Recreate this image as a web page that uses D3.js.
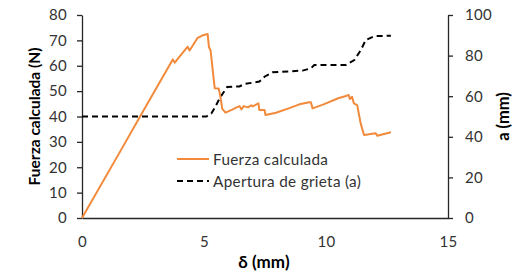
<!DOCTYPE html>
<html>
<head>
<meta charset="utf-8">
<script src="https://cdn.jsdelivr.net/npm/d3@7"></script>
<style>
  html, body { margin: 0; padding: 0; background: #fff; }
  svg { display: block; font-family: Lato, "Open Sans", sans-serif; }
</style>
</head>
<body>
<svg id="chart" width="516" height="275"></svg>
<script>
// ---------------------------------------------------------------------------
// Data: displacement δ (mm) vs force (N) and crack (mm)
// ---------------------------------------------------------------------------
const forceDelta = [0, 1.79, 2.38, 3.72, 3.80, 4.33, 4.41, 4.74, 4.95, 5.15, 5.20, 5.27, 5.44, 5.60, 5.65,
  5.75, 5.88, 6.18, 6.33, 6.46, 6.53, 6.63, 6.80, 6.94, 7.00, 7.23, 7.27, 7.48, 7.52, 7.95, 8.50, 8.91,
  9.32, 9.38, 9.45, 9.90, 10.50, 10.82, 10.93, 10.98, 11.07, 11.14, 11.28, 11.42, 11.56, 12.04, 12.10, 12.66];
const forceN = [0, 30, 40, 62.5, 61.2, 67.5, 66, 71, 72, 72.5, 67.5, 66, 51.1, 51, 49,
  43, 41.5, 42.8, 43.6, 44.1, 42.8, 44.1, 43.6, 44.4, 44.0, 45.2, 42.6, 42.6, 40.6, 41.5, 43.3, 44.8,
  45.6, 45.6, 43.2, 44.8, 47.2, 48.1, 48.5, 46.9, 47.8, 45.2, 44.5, 37.3, 32.7, 33.4, 32.4, 33.8];

const crackDelta = [0, 5.10, 5.30, 5.45, 5.60, 5.75, 5.95, 6.45, 6.66, 7.27, 7.48, 7.80, 9.04, 9.38, 9.52,
  10.82, 11.16, 11.43, 11.63, 12.00, 12.66];
const crackA = [50, 50, 51.5, 54.5, 58, 61, 64.5, 64.8, 66, 67.2, 69.6, 71.8, 72.6, 73.7, 75.4,
  75.4, 77.8, 82.8, 87.7, 89.6, 89.8];

const xTicks = [0, 5, 10, 15];
const leftTicks = [0, 10, 20, 30, 40, 50, 60, 70, 80];
const rightTicks = [0, 20, 40, 60, 80, 100];

const seriesNames = ["Fuerza calculada", "Apertura de grieta (a)"];
const xTitle = "δ (mm)";
const leftTitle = "Fuerza calculada (N)";
const rightTitle = "a (mm)";

// ---------------------------------------------------------------------------
// Layout
// ---------------------------------------------------------------------------
const plot = { left: 82, right: 448, top: 15, bottom: 218 };
const ORANGE = "#F28A3C";
const INK = "#262626";

const svg = d3.select("#chart");

const x = d3.scaleLinear().domain([0, 15]).range([plot.left, plot.right]);
const yL = d3.scaleLinear().domain([0, 80]).range([plot.bottom, plot.top]);
const yR = d3.scaleLinear().domain([0, 100]).range([plot.bottom, plot.top]);

// Left axis — outward ticks, labels right-aligned
const axL = svg.append("g")
  .attr("transform", `translate(${plot.left},0)`)
  .call(d3.axisLeft(yL).tickValues(leftTicks).tickSize(5).tickPadding(10).tickSizeOuter(0));

// Right axis
const axR = svg.append("g")
  .attr("transform", `translate(${plot.right},0)`)
  .call(d3.axisRight(yR).tickValues(rightTicks).tickSize(5).tickPadding(12).tickSizeOuter(0));

// Bottom axis — no tick marks
const axB = svg.append("g")
  .attr("transform", `translate(0,${plot.bottom})`)
  .call(d3.axisBottom(x).tickValues(xTicks).tickSize(0).tickPadding(18));

[axL, axR, axB].forEach(ax => {
  ax.select(".domain").attr("stroke", INK).attr("stroke-width", 1.3);
  ax.selectAll(".tick line").attr("stroke", INK).attr("stroke-width", 1.3);
  ax.selectAll(".tick text")
    .attr("fill", "#333")
    .attr("font-size", 15)
    .attr("letter-spacing", 0.3)
    .attr("font-family", "Lato, 'Open Sans', sans-serif");
});

// Series lines
const forcePts = forceDelta.map((d, i) => [d, forceN[i]]);
const crackPts = crackDelta.map((d, i) => [d, crackA[i]]);

svg.append("path")
  .datum(crackPts)
  .attr("fill", "none")
  .attr("stroke", "#000")
  .attr("stroke-width", 2)
  .attr("stroke-dasharray", "6,4")
  .attr("d", d3.line().x(d => x(d[0])).y(d => yR(d[1])));

svg.append("path")
  .datum(forcePts)
  .attr("fill", "none")
  .attr("stroke", ORANGE)
  .attr("stroke-width", 2)
  .attr("stroke-linejoin", "round")
  .attr("d", d3.line().x(d => x(d[0])).y(d => yL(d[1])));

// Axis titles
svg.append("text")
  .attr("transform", `translate(${(plot.left + plot.right) / 2 - 1},268)`)
  .attr("text-anchor", "middle")
  .attr("font-size", 17).attr("font-weight", 700).attr("fill", "#000")
  .text(xTitle);

svg.append("text")
  .attr("transform", `translate(40,${(plot.top + plot.bottom) / 2}) rotate(-90)`)
  .attr("text-anchor", "middle")
  .attr("font-size", 15.5).attr("font-weight", 700).attr("fill", "#000")
  .text(leftTitle);

svg.append("text")
  .attr("transform", `translate(509,${(plot.top + plot.bottom) / 2}) rotate(-90)`)
  .attr("text-anchor", "middle")
  .attr("font-size", 16.5).attr("font-weight", 700).attr("fill", "#000")
  .text(rightTitle);

// Legend
const legend = svg.append("g").attr("transform", "translate(177,159)");
seriesNames.forEach((name, i) => {
  const row = legend.append("g").attr("transform", `translate(0,${i * 22})`);
  row.append("line")
    .attr("x1", 0).attr("x2", 32).attr("y1", 0).attr("y2", 0)
    .attr("stroke", i === 0 ? ORANGE : "#000")
    .attr("stroke-width", 2)
    .attr("stroke-dasharray", i === 0 ? null : "6,4");
  row.append("text")
    .attr("x", 36).attr("y", 5.5)
    .attr("font-size", 15.3).attr("letter-spacing", 0.3).attr("fill", "#333")
    .text(name);
});
</script>
</body>
</html>
